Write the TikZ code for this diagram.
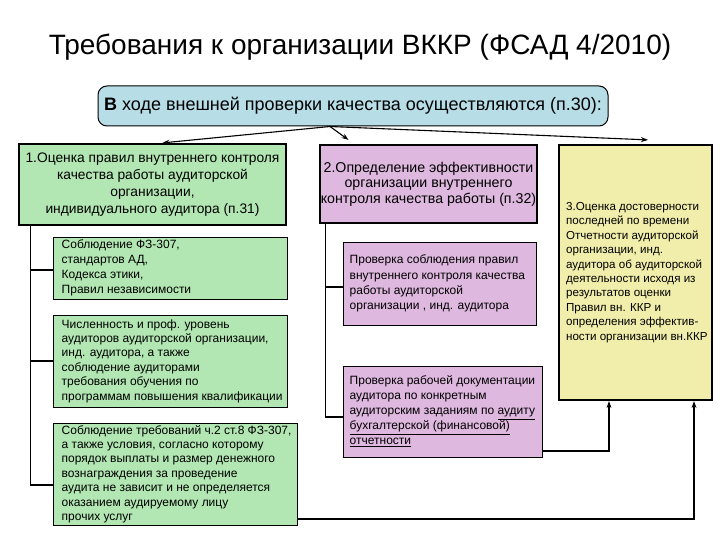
\documentclass[tikz,border=0pt]{standalone}
\usepackage{fontspec}
\setmainfont{Liberation Sans}
\usetikzlibrary{arrows.meta,calc}
\definecolor{gfill}{RGB}{178,230,178}
\definecolor{pfill}{RGB}{222,184,222}
\definecolor{yfill}{RGB}{240,238,170}
\definecolor{bfill}{RGB}{183,221,230}
\tikzset{
  mainbox/.style={draw=black,line width=2.2pt,minimum width=#1,inner sep=0pt,align=center},
  subbox/.style={draw=black,line width=1pt,minimum width=#1,inner sep=0pt},
  subtxt/.style={anchor=west,align=left,inner sep=0pt,font=\fontsize{12}{14.4}\selectfont},
  arr/.style={-{Stealth[length=7pt,width=5pt]},line width=1.1pt},
  ln/.style={line width=1.1pt},
}
\begin{document}
\begin{tikzpicture}[x=1pt,y=-1pt]
\useasboundingbox (0,0) rectangle (720,540);
\fill[white] (0,0) rectangle (720,540);
% title
\node[font=\fontsize{28}{32}\selectfont] (title) at (360,47) {Требования к организации ВККР (ФСАД 4/2010)};
% top box
\node[draw=black,line width=1pt,fill=bfill,rounded corners=9pt,minimum width=510pt,minimum height=40pt,
  font=\fontsize{18}{21}\selectfont] (top) at (353,106) {\textbf{В} ходе внешней проверки качества осуществляются (п.30):};
% main boxes
\node[mainbox=267pt,minimum height=81pt,fill=gfill,font=\fontsize{13.8}{17}\selectfont] (b1) at (152.5,184.5)
  {1.Оценка правил внутреннего контроля\\качества работы аудиторской\\организации,\\индивидуального аудитора (п.31)};
\node[mainbox=217pt,minimum height=78pt,fill=pfill,font=\fontsize{14.2}{15.5}\selectfont] (b2) at (428.5,184)
  {2.Определение эффективности\\организации внутреннего\\контроля качества работы (п.32)};
\node[mainbox=153pt,minimum height=255pt,fill=yfill] (b3) at (635.5,272.5) {};
\node[subtxt,font=\fontsize{11.6}{14.4}\selectfont] (t3) at ([xshift=8pt]b3.west)
  {3.Оценка достоверности\\последней по времени\\Отчетности аудиторской\\организации, инд.\\аудитора об аудиторской\\деятельности исходя из\\результатов оценки\\Правил вн. ККР и\\определения эффектив-\\ности организации вн.ККР};
% sub boxes column 1
\node[subbox=234pt,minimum height=62pt,fill=gfill] (s11) at (170,268) {};
\node[subtxt,font=\fontsize{12}{15}\selectfont] (t11) at ([xshift=9pt]s11.west)
  {Соблюдение ФЗ-307,\\стандартов АД,\\Кодекса этики,\\Правил независимости};
\node[subbox=234pt,minimum height=92pt,fill=gfill] (s12) at (170,361) {};
\node[subtxt] (t12) at ([xshift=9pt]s12.west)
  {Численность и проф. уровень\\аудиторов аудиторской организации,\\инд. аудитора, а также\\соблюдение аудиторами\\требования обучения по\\программам повышения квалификации};
\node[subbox=244pt,minimum height=102pt,fill=gfill] (s13) at (175,474) {};
\node[subtxt] (t13) at ([xshift=9pt]s13.west)
  {Соблюдение требований ч.2 ст.8 ФЗ-307,\\а также условия, согласно которому\\порядок выплаты и размер денежного\\вознаграждения за проведение\\аудита не зависит и не определяется\\оказанием аудируемому лицу\\прочих услуг};
% sub boxes column 2
\node[subbox=193pt,minimum height=83pt,fill=pfill] (s21) at (439.5,283.5) {};
\node[subtxt,font=\fontsize{12}{15.3}\selectfont] (t21) at ([xshift=7pt]s21.west)
  {Проверка соблюдения правил\\внутреннего контроля качества\\работы аудиторской\\организации , инд. аудитора};
\node[subbox=199pt,minimum height=91pt,fill=pfill] (s22) at (442.5,411.5) {};
\node[subtxt,font=\fontsize{12}{15}\selectfont] (t22) at ([xshift=7pt]s22.west)
  {Проверка рабочей документации\\аудитора по конкретным\\аудиторским заданиям по \underline{аудиту}\\\underline{бухгалтерской (финансовой)}\\\underline{отчетности}};
% arrows from top box
\coordinate (ts) at ([xshift=-23pt]top.south);
\draw[arr] (ts) -- ([xshift=10pt]b1.north);
\draw[arr] (ts) -- ([xshift=-80pt,yshift=4pt]b2.north);
\draw[arr] (ts) -- ([xshift=12.5pt,yshift=4pt]b3.north);
% trunk col 1
\coordinate (k1) at ([xshift=13pt]b1.south west);
\draw[ln] (k1) |- ([yshift=-11pt]s13.west);
\draw[ln] ([yshift=-2pt]s11.west) -- ([yshift=-2pt]s11.west -| k1);
\draw[ln] (s12.west) -- (s12.west -| k1);
% trunk col 2
\coordinate (k2) at ([xshift=7pt]b2.south west);
\draw[ln] (k2) |- ([yshift=-5.5pt]s22.west);
\draw[ln] ([yshift=-3.5pt]s21.west) -- ([yshift=-3.5pt]s21.west -| k2);
% to box 3
\draw[arr] ([yshift=-39.5pt]s22.east) -| ([xshift=-26.5pt]b3.south);
\draw[arr] ([yshift=-45pt]s13.east) -| ([xshift=58.5pt]b3.south);
\end{tikzpicture}
\end{document}
